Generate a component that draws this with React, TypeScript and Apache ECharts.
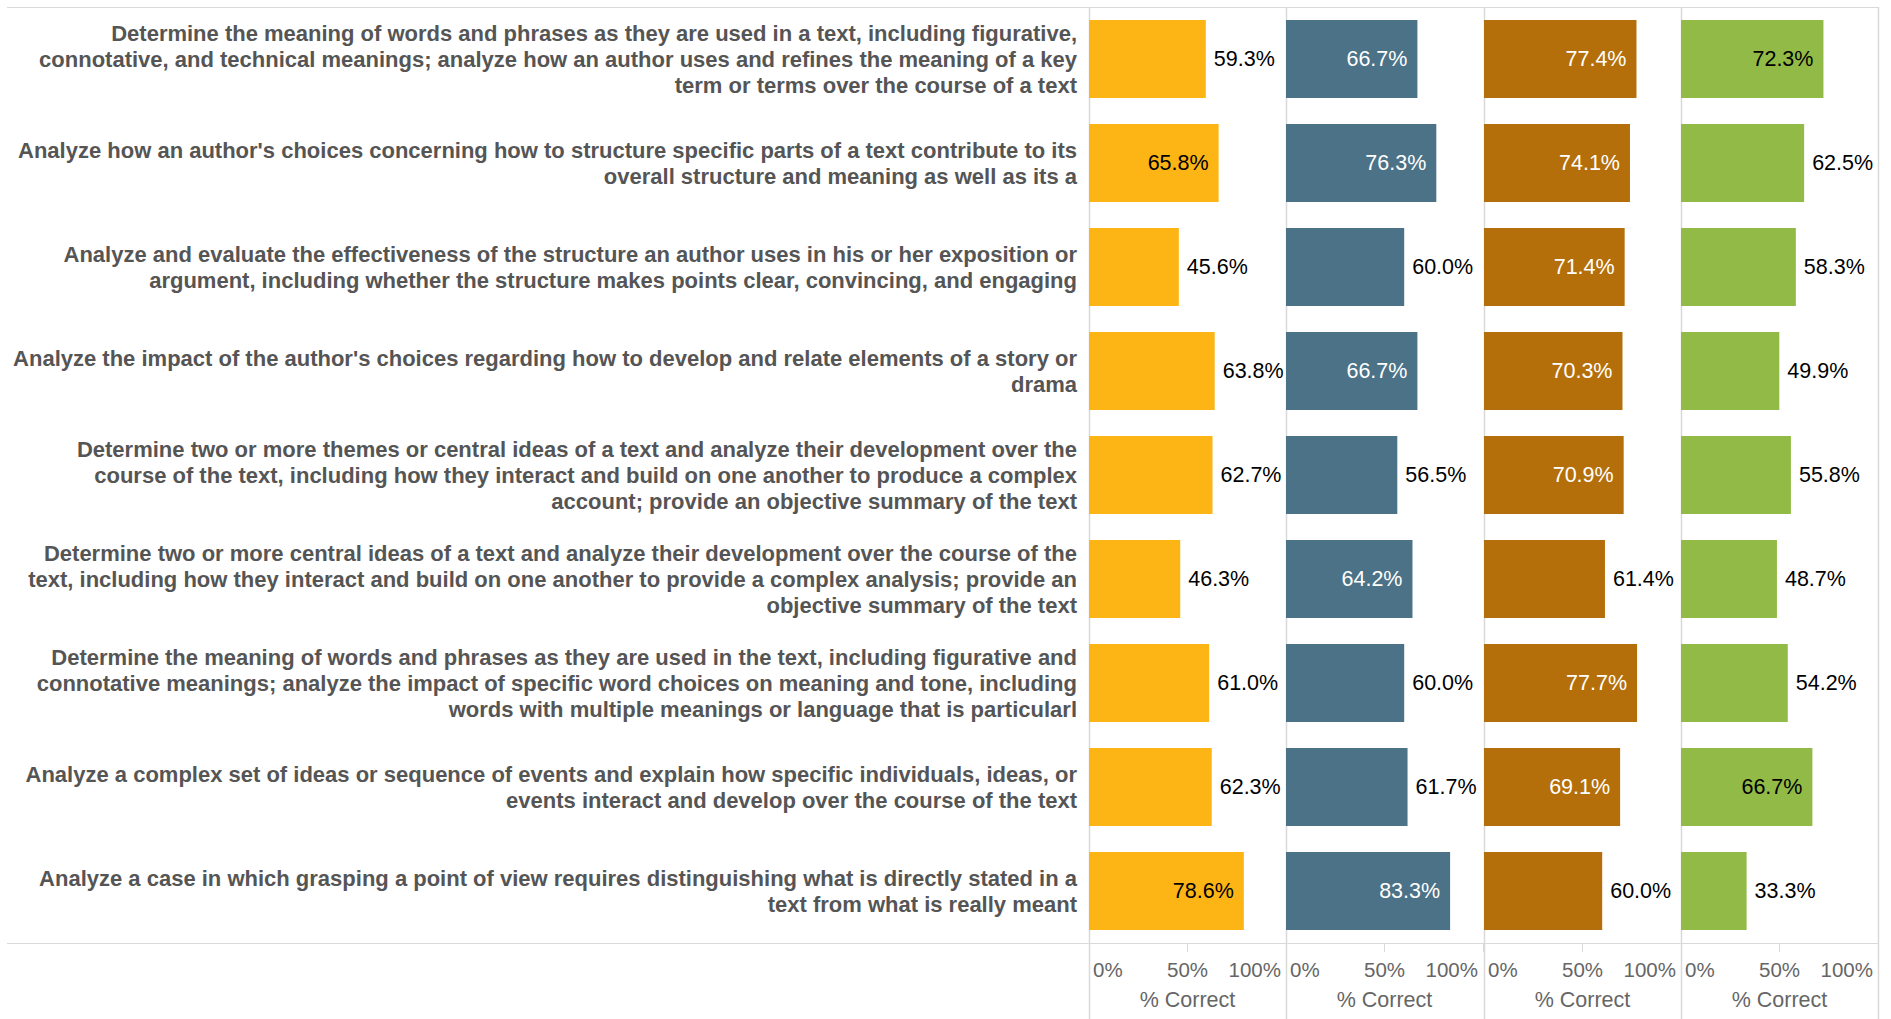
import React, { useEffect, useRef } from "react";
import * as echarts from "echarts";

const categories: string[] = [
  "Determine the meaning of words and phrases as they are used in a text, including figurative,\nconnotative, and technical meanings; analyze how an author uses and refines the meaning of a key\nterm or terms over the course of a text",
  "Analyze how an author's choices concerning how to structure specific parts of a text contribute to its\noverall structure and meaning as well as its a",
  "Analyze and evaluate the effectiveness of the structure an author uses in his or her exposition or\nargument, including whether the structure makes points clear, convincing, and engaging",
  "Analyze the impact of the author's choices regarding how to develop and relate elements of a story or\ndrama",
  "Determine two or more themes or central ideas of a text and analyze their development over the\ncourse of the text, including how they interact and build on one another to produce a complex\naccount; provide an objective summary of the text",
  "Determine two or more central ideas of a text and analyze their development over the course of the\ntext, including how they interact and build on one another to provide a complex analysis; provide an\nobjective summary of the text",
  "Determine the meaning of words and phrases as they are used in the text, including figurative and\nconnotative meanings; analyze the impact of specific word choices on meaning and tone, including\nwords with multiple meanings or language that is particularl",
  "Analyze a complex set of ideas or sequence of events and explain how specific individuals, ideas, or\nevents interact and develop over the course of the text",
  "Analyze a case in which grasping a point of view requires distinguishing what is directly stated in a\ntext from what is really meant",
];

const yellowValues: number[] = [59.3, 65.8, 45.6, 63.8, 62.7, 46.3, 61.0, 62.3, 78.6];
const blueValues: number[] = [66.7, 76.3, 60.0, 66.7, 56.5, 64.2, 60.0, 61.7, 83.3];
const brownValues: number[] = [77.4, 74.1, 71.4, 70.3, 70.9, 61.4, 77.7, 69.1, 60.0];
const greenValues: number[] = [72.3, 62.5, 58.3, 49.9, 55.8, 48.7, 54.2, 66.7, 33.3];

const xTicks: number[] = [0, 50, 100];
const axisTitle = "% Correct";

const panels = [
  { values: yellowValues, color: "#FDB515", insideText: "#000000" },
  { values: blueValues, color: "#4B7286", insideText: "#ffffff" },
  { values: brownValues, color: "#B46F0A", insideText: "#ffffff" },
  { values: greenValues, color: "#92BA46", insideText: "#000000" },
];

const FONT = "Arial, 'Liberation Sans', sans-serif";
const LINE = "#d9d9d9";

export default function App() {
  const ref = useRef<HTMLDivElement>(null);

  useEffect(() => {
    if (!ref.current) return;
    const chart = echarts.init(ref.current, undefined, { renderer: "svg" });

    const gridTop = 7;
    const gridHeight = 936;
    const firstLeft = 1089;
    const panelW = 197.25;
    const barW = 197;

    const grids = panels.map((_, i) => ({
      left: Math.round(firstLeft + i * panelW),
      top: gridTop,
      width: barW,
      height: gridHeight,
      containLabel: false,
    }));

    const tickText = { fontSize: 20.5, fontFamily: FONT, color: "#666666" };
    const minTick = xTicks[0];
    const maxTick = xTicks[xTicks.length - 1];

    const xAxes = panels.map((_, i) => ({
      type: "value",
      gridIndex: i,
      min: minTick,
      max: maxTick,
      interval: xTicks[1] - xTicks[0],
      axisLine: { show: false },
      axisTick: { show: true, length: 9, lineStyle: { color: LINE, width: 1 } },
      splitLine: { show: false },
      axisLabel: {
        formatter: (v: number) =>
          v === minTick ? `{l|${v}%}` : v === maxTick ? `{r|${v}%}` : `{m|${v}%}`,
        ...tickText,
        margin: 16,
        alignMinLabel: "left",
        alignMaxLabel: "right",
        rich: {
          l: { ...tickText, padding: [0, 0, 0, 4] },
          m: { ...tickText },
          r: { ...tickText, padding: [0, 5, 0, 0] },
        },
      },
      name: axisTitle,
      nameLocation: "middle",
      nameGap: 46,
      nameTextStyle: { fontSize: 21.5, fontFamily: FONT, color: "#666666" },
    }));

    const yAxes = panels.map((_, i) => ({
      type: "category",
      gridIndex: i,
      data: categories,
      inverse: true,
      axisLine: { show: false },
      axisTick: { show: false },
      splitLine: { show: false },
      axisLabel:
        i === 0
          ? {
              show: true,
              margin: 12,
              fontSize: 22,
              fontWeight: "bold",
              fontFamily: FONT,
              color: "#555555",
              lineHeight: 26,
              align: "right",
            }
          : { show: false },
    }));

    const series = panels.map((p, i) => ({
      type: "bar",
      xAxisIndex: i,
      yAxisIndex: i,
      barCategoryGap: "25%",
      itemStyle: { color: p.color },
      data: p.values.map((v) => {
        const inside = v >= 64;
        return {
          value: v,
          label: {
            show: true,
            position: inside ? "insideRight" : "right",
            distance: inside ? 10 : 8,
            color: inside ? p.insideText : "#000000",
            fontSize: 21.5,
            fontFamily: FONT,
            formatter: (d: any) => d.value.toFixed(1) + "%",
          },
        };
      }),
    }));

    const dividers = [0, 1, 2, 3, 4].map((i) => Math.round(firstLeft + i * panelW) + 0.5);
    const graphic: any[] = [
      { type: "line", shape: { x1: 7, y1: 7.5, x2: dividers[4], y2: 7.5 }, style: { stroke: LINE, lineWidth: 1 }, silent: true },
      { type: "line", shape: { x1: 7, y1: 943.5, x2: dividers[4], y2: 943.5 }, style: { stroke: LINE, lineWidth: 1 }, silent: true },
      ...dividers.map((x) => ({
        type: "line",
        shape: { x1: x, y1: 7, x2: x, y2: 1019 },
        style: { stroke: LINE, lineWidth: 1.5 },
        silent: true,
      })),
    ];

    chart.setOption({
      animation: false,
      backgroundColor: "#ffffff",
      grid: grids,
      xAxis: xAxes,
      yAxis: yAxes,
      series,
      graphic,
    });

    return () => chart.dispose();
  }, []);

  return (
    <div
      ref={ref}
      style={{ position: "absolute", left: 0, top: 0, width: 1891, height: 1019 }}
    />
  );
}
